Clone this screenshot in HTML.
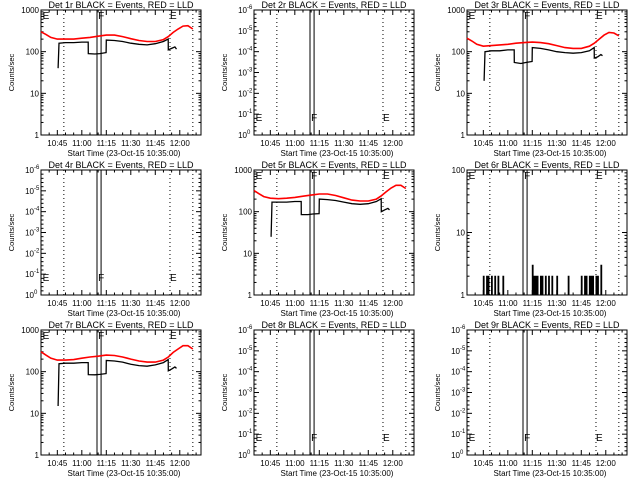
<!DOCTYPE html>
<html><head><meta charset="utf-8">
<style>
html,body{margin:0;padding:0;background:#fff;}
svg{display:block;font-family:"Liberation Sans",sans-serif;}
</style></head>
<body>
<svg id="chart" width="640" height="480" viewBox="0 0 640 480" xmlns="http://www.w3.org/2000/svg"></svg>
<script>
// x domain in minutes after 10:35:00
const xTickLabels = ["10:45","11:00","11:15","11:30","11:45","12:00"];
const xTickMinutes = [10,25,40,55,70,85];
const dottedLineMinutes = [14,79,93];
const doubleLineMinutes = [34.3,36.8];
const markerMinutes = [1,35,79];
const markerLetters = ["E","F","E"];

const redTimes = [0,3,6,10,15,20,25,30,35,40,45,50,55,60,65,70,75,78,81,84,87,90,93];
const blackTimes = [10.5,11,15,20,25,28.9,29,33,36,39.9,40,45,50,55,60,65,70,75,77.9,78,80,82,83];

const det1Red = [300,260,220,200,200,200,210,220,235,250,250,230,205,185,175,175,195,230,290,350,410,420,350];
const det1Black = [40,160,165,165,170,170,90,88,90,95,190,185,175,160,150,145,155,175,200,110,120,130,115];
const det3Red = [210,180,150,135,140,145,150,160,165,170,165,155,140,125,120,120,135,160,200,250,290,280,240];
const det3Black = [20,100,105,105,110,110,55,52,55,58,125,120,110,100,95,92,95,105,125,70,75,85,80];
const det5Red = [320,270,230,210,205,210,220,235,250,265,265,245,215,190,180,180,200,240,300,370,430,430,360];
const det5Black = [25,170,170,170,175,175,85,85,88,90,200,195,185,170,155,150,155,175,205,100,110,120,110];
const det7Red = [300,250,210,190,190,195,210,225,235,250,245,225,200,180,170,170,190,225,290,350,420,420,350];
const det7Black = [15,155,160,160,165,165,85,84,86,90,185,180,170,150,140,135,145,165,195,105,115,130,120];

const det6Times = [10,11,12,13,14,15,17,18,19,22,23,40,41,42,43,44,45,46,47,48,49,50,51,52,53,55,58,62,70,71,72,73,74,75,76,77,78,79,80,81,82,83];
const det6Counts = [2,1,2,2,1,2,2,1,2,2,1,3,2,2,2,1,2,2,1,2,1,2,1,2,1,2,1,2,2,1,2,2,1,2,2,2,1,2,2,1,3,1];

const panels = [
 {id:1,type:"data",ymax:1000,red:det1Red,black:det1Black},
 {id:2,type:"empty"},
 {id:3,type:"data",ymax:1000,red:det3Red,black:det3Black},
 {id:4,type:"empty"},
 {id:5,type:"data",ymax:1000,red:det5Red,black:det5Black},
 {id:6,type:"spiky",ymax:100},
 {id:7,type:"data",ymax:1000,red:det7Red,black:det7Black},
 {id:8,type:"empty"},
 {id:9,type:"empty"}
];
const yTickLabels1000 = ["1","10","100","1000"];
const yTickLabels100 = ["1","10","100"];
const emptyExponents = ["0","-1","-2","-3","-4","-5","-6"];

const svg = document.getElementById('chart');
const NS = "http://www.w3.org/2000/svg";
function mk(tag, attrs, parent){
  const e = document.createElementNS(NS, tag);
  for (const k in attrs) e.setAttribute(k, attrs[k]);
  (parent||svg).appendChild(e);
  return e;
}
const W = 160, H = 125, XMAX = 98;

panels.forEach((p, i) => {
  const col = i % 3, row = Math.floor(i / 3);
  const L = 41 + 213 * col, T = 10 + 160 * row, B = T + H, R = L + W;
  const g = mk('g', {});
  
  
  const xs = t => L + t / XMAX * W;
  let ys;
  if (p.type === 'empty') ys = v => B - v / 6 * H;
  else ys = v => B - Math.log10(v) / Math.log10(p.ymax) * H;

  const title = mk('text', {x: L + W/2, y: T - 2, 'text-anchor':'middle', 'font-size':'9'}, g);
  title.textContent = 'Det ' + p.id + 'r BLACK = Events, RED = LLD';
  
  

  const box = mk('rect', {x:L, y:T, width:W, height:H, fill:'none', stroke:'#000', 'stroke-width':1}, g);
  
  

  for (let m = 5; m < XMAX; m += 5) {
    const major = (m - 10) % 15 === 0;
    const len = major ? 5 : 2.5;
    mk('line', {x1:xs(m), x2:xs(m), y1:B, y2:B-len, stroke:'#000'}, g);
    mk('line', {x1:xs(m), x2:xs(m), y1:T, y2:T+len, stroke:'#000'}, g);
  }
  xTickLabels.forEach((lab, k) => {
    const t = mk('text', {x: xs(xTickMinutes[k]), y: B + 11, 'text-anchor':'middle', 'font-size':'8'}, g);
    t.textContent = lab;
    
    
  });
  const xt = mk('text', {x: L + W/2 + 3, y: B + 21, 'text-anchor':'middle', 'font-size':'8'}, g);
  xt.textContent = 'Start Time (23-Oct-15 10:35:00)';
  
  

  const yt = mk('text', {x: 0, y: 0, 'text-anchor':'middle', 'font-size':'7.5', transform:'translate(' + (L-27) + ',' + (T+H/2) + ') rotate(-90)'}, g);
  yt.textContent = 'Counts/sec';
  
  

  if (p.type === 'empty') {
    emptyExponents.forEach((ex, k) => {
      const y = ys(k);
      mk('line', {x1:L, x2:L+5, y1:y, y2:y, stroke:'#000'}, g);
      mk('line', {x1:R, x2:R-5, y1:y, y2:y, stroke:'#000'}, g);
      for (let j = 1; j < 5; j++) if (k < 6) {
        const yy = y - j * H/6/5;
        mk('line', {x1:L, x2:L+2.5, y1:yy, y2:yy, stroke:'#000'}, g);
        mk('line', {x1:R, x2:R-2.5, y1:yy, y2:yy, stroke:'#000'}, g);
      }
      const t = mk('text', {x: L - 7, y: y + 3, 'text-anchor':'end', 'font-size':'8'}, g);
      t.textContent = '10';
      
      
      const s = mk('text', {x: L - 7, y: y - 1, 'text-anchor':'start', 'font-size':'6'}, g);
      s.textContent = ex;
      
      
    });
  } else {
    const labs = p.ymax === 1000 ? yTickLabels1000 : yTickLabels100;
    labs.forEach((lab, k) => {
      const v = Number(lab);
      const y = ys(v);
      mk('line', {x1:L, x2:L+5, y1:y, y2:y, stroke:'#000'}, g);
      mk('line', {x1:R, x2:R-5, y1:y, y2:y, stroke:'#000'}, g);
      if (k < labs.length - 1) for (let j = 2; j < 10; j++) {
        const yy = ys(v * j);
        mk('line', {x1:L, x2:L+2.5, y1:yy, y2:yy, stroke:'#000'}, g);
        mk('line', {x1:R, x2:R-2.5, y1:yy, y2:yy, stroke:'#000'}, g);
      }
      const t = mk('text', {x: L - 2, y: y + 3, 'text-anchor':'end', 'font-size':'8'}, g);
      t.textContent = lab;
      
      
    });
  }

  dottedLineMinutes.forEach(m => {
    const l = mk('line', {x1:xs(m), x2:xs(m), y1:T, y2:B, stroke:'#000', 'stroke-dasharray':'1,3'}, g);
    
    
  });
  doubleLineMinutes.forEach(m => {
    const l = mk('line', {x1:xs(m), x2:xs(m), y1:T, y2:B, stroke:'#000'}, g);
    
    
  });
  const my = p.type === 'empty' ? B - 14 : T + 9;
  markerMinutes.forEach((m, k) => {
    const t = mk('text', {x: xs(m), y: my, 'font-size':'10'}, g);
    t.textContent = markerLetters[k];
    
    
  });

  if (p.type === 'data') {
    let d = '';
    redTimes.forEach((t, k) => { d += (k ? 'L' : 'M') + xs(t).toFixed(1) + ',' + ys(p.red[k]).toFixed(1); });
    const r = mk('path', {d, fill:'none', stroke:'#ff0000', 'stroke-width':1.6}, g);
    
    
    d = '';
    blackTimes.forEach((t, k) => { d += (k ? 'L' : 'M') + xs(t).toFixed(1) + ',' + ys(p.black[k]).toFixed(1); });
    const b = mk('path', {d, fill:'none', stroke:'#000', 'stroke-width':1.3}, g);
    
    
  } else if (p.type === 'spiky') {
    let d = '';
    det6Times.forEach((t, k) => {
      const x = xs(t), y = ys(det6Counts[k]);
      if (det6Counts[k] > 1) d += 'M' + x.toFixed(1) + ',' + ys(1).toFixed(1) + 'L' + x.toFixed(1) + ',' + y.toFixed(1) + 'L' + (x + 0.8).toFixed(1) + ',' + y.toFixed(1) + 'L' + (x + 0.8).toFixed(1) + ',' + ys(1).toFixed(1);
    });
    d += 'M' + xs(det6Times[0]).toFixed(1) + ',' + ys(1).toFixed(1) + 'L' + xs(det6Times[det6Times.length-1]).toFixed(1) + ',' + ys(1).toFixed(1);
    const b = mk('path', {d, fill:'none', stroke:'#000', 'stroke-width':1}, g);
    
    
  }
});
</script>
</body></html>
